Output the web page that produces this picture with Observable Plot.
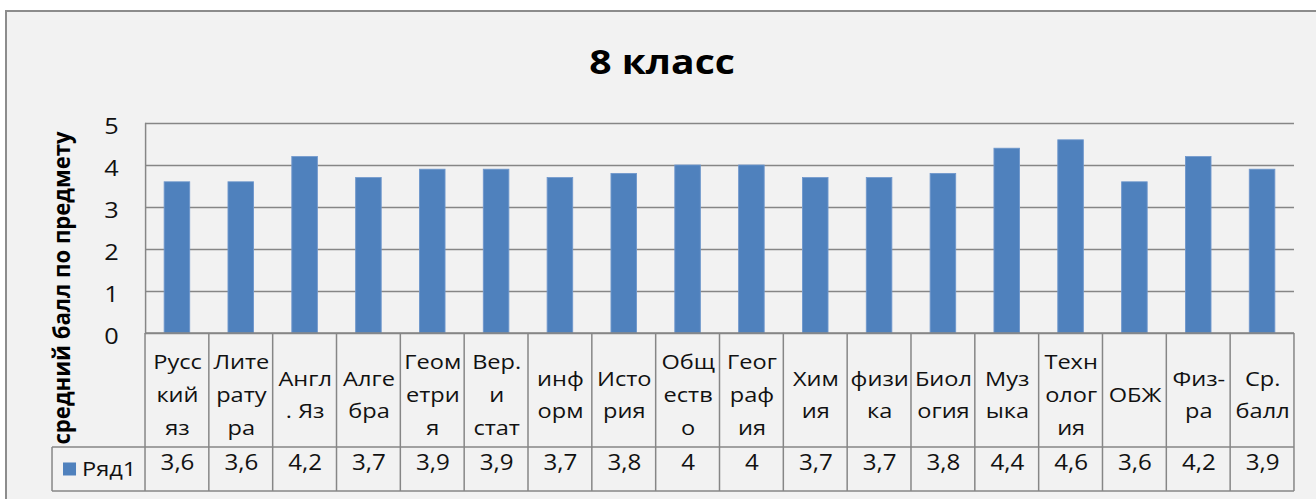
<!DOCTYPE html>
<html>
<head>
<meta charset="utf-8">
<script src="https://cdn.jsdelivr.net/npm/d3@7"></script>
<script src="https://cdn.jsdelivr.net/npm/@observablehq/plot@0.6"></script>
<style>
  html, body { margin: 0; padding: 0; background: #ffffff; overflow: hidden; }
  #wrap { position: relative; width: 1316px; height: 499px; overflow: hidden; }
  #bg { position: absolute; left: 5px; top: 10px; width: 1330px; height: 520px;
        background: #f2f2f2; border: 2px solid #8c8c8c; box-sizing: border-box; }
  #chart { position: absolute; left: 0; top: 0; }
  #chart svg { transform-origin: 0 0; }
</style>
</head>
<body>
<div id="wrap"><div id="bg"></div><div id="chart"></div></div>
<script>
const title = "8 класс";
const yLabel = "средний балл по предмету";
const seriesName = "Ряд1";
const subjectLabels = [
  "Русс\nкий\nяз", "Лите\nрату\nра", "Англ\n. Яз", "Алге\nбра", "Геом\nетри\nя",
  "Вер.\nи\nстат", "инф\nорм", "Исто\nрия", "Общ\nеств\nо", "Геог\nраф\nия",
  "Хим\nия", "физи\nка", "Биол\nогия", "Муз\nыка", "Техн\nолог\nия",
  "ОБЖ", "Физ-\nра", "Ср.\nбалл"
];
const scores = [3.6, 3.6, 4.2, 3.7, 3.9, 3.9, 3.7, 3.8, 4, 4, 3.7, 3.7, 3.8, 4.4, 4.6, 3.6, 4.2, 3.9];
const yTicks = [0, 1, 2, 3, 4, 5];

const data = subjectLabels.map((label, i) => ({label, value: scores[i]}));
const fmt = v => String(v).replace(".", ",");
const FONT = "'Open Sans', sans-serif";
const GRID = "#868686";
const TEXT = "#111111";
const S = 1.15;            // horizontal stretch of the original picture
const X = px => px / S;    // page pixels -> svg units

const plot = Plot.plot({
  width: 1316 / S,
  height: 499,
  marginTop: 123,
  marginBottom: 166,
  marginLeft: X(145),
  marginRight: X(22),
  style: {background: "transparent", fontFamily: FONT, color: TEXT},
  x: {domain: subjectLabels, paddingInner: 0.6, paddingOuter: 0.3, round: false, axis: null},
  y: {domain: [0, 5], axis: null},
  marks: [
    Plot.gridY(yTicks, {stroke: GRID, strokeOpacity: 1, strokeWidth: 1.3}),
    Plot.axisY(yTicks, {label: null, tickSize: 0, tickPadding: X(27), fontSize: 22, dy: 3}),
    Plot.frame({anchor: "left", stroke: GRID, strokeWidth: 1.3}),
    Plot.barY(data, {x: "label", y: "value", fill: "#4f81bd", stroke: "#6f97cc", strokeWidth: 0.8}),
    Plot.text(data, {x: "label", text: "label", frameAnchor: "bottom", dy: 58, lineAnchor: "middle", lineHeight: 1.6, fontSize: 20.5}),
    Plot.text(data, {x: "label", text: d => fmt(d.value), frameAnchor: "bottom", dy: 137, fontSize: 21})
  ]
});
plot.style.transform = `scaleX(${S})`;
document.getElementById("chart").appendChild(plot);

// Data table grid drawn from the plot's own scales
const sx = plot.scale("x");
const sy = plot.scale("y");
const svg = d3.select(plot);
const y0 = sy.apply(0);
const rowLabelBottom = y0 + 114;
const rowValueBottom = rowLabelBottom + 44;
const gap = sx.step - sx.bandwidth;
const colLefts = subjectLabels.map(l => sx.apply(l) - gap / 2);
const xRight = colLefts[colLefts.length - 1] + sx.step;
const xLeft = colLefts[0];
const legendLeft = X(52);

const g = svg.append("g").attr("stroke", GRID).attr("stroke-width", 1.3);
g.append("line").attr("x1", xLeft).attr("x2", xRight).attr("y1", y0).attr("y2", y0);
g.append("line").attr("x1", legendLeft).attr("x2", xRight).attr("y1", rowLabelBottom).attr("y2", rowLabelBottom);
g.append("line").attr("x1", legendLeft).attr("x2", xRight).attr("y1", rowValueBottom).attr("y2", rowValueBottom);
g.append("line").attr("x1", legendLeft).attr("x2", legendLeft).attr("y1", rowLabelBottom).attr("y2", rowValueBottom);
colLefts.concat([xRight]).forEach(x => {
  g.append("line").attr("x1", x).attr("x2", x).attr("y1", y0).attr("y2", rowValueBottom);
});

// legend key in the table
const midValueRow = (rowLabelBottom + rowValueBottom) / 2;
svg.append("rect").attr("x", X(63)).attr("y", midValueRow - 6.5).attr("width", X(13)).attr("height", 13).attr("fill", "#4f81bd");
svg.append("text").attr("x", X(82)).attr("y", midValueRow).attr("dy", "0.35em").attr("text-anchor", "start")
  .attr("font-size", 20.5).attr("fill", TEXT).attr("font-family", FONT).text(seriesName);

// title
svg.append("text").attr("x", X(662)).attr("y", 62).attr("dy", "0.35em").attr("text-anchor", "middle")
  .attr("font-size", 34).attr("font-weight", "bold").attr("fill", "#000").attr("font-family", FONT).text(title);

// y label
svg.append("text").attr("transform", `translate(${X(62)},288) rotate(-90)`).attr("dy", "0.35em")
  .attr("text-anchor", "middle").attr("font-size", 20).attr("font-weight", "bold").attr("fill", "#000")
  .attr("textLength", 313).attr("lengthAdjust", "spacingAndGlyphs")
  .attr("font-family", FONT).text(yLabel);
</script>
</body>
</html>
